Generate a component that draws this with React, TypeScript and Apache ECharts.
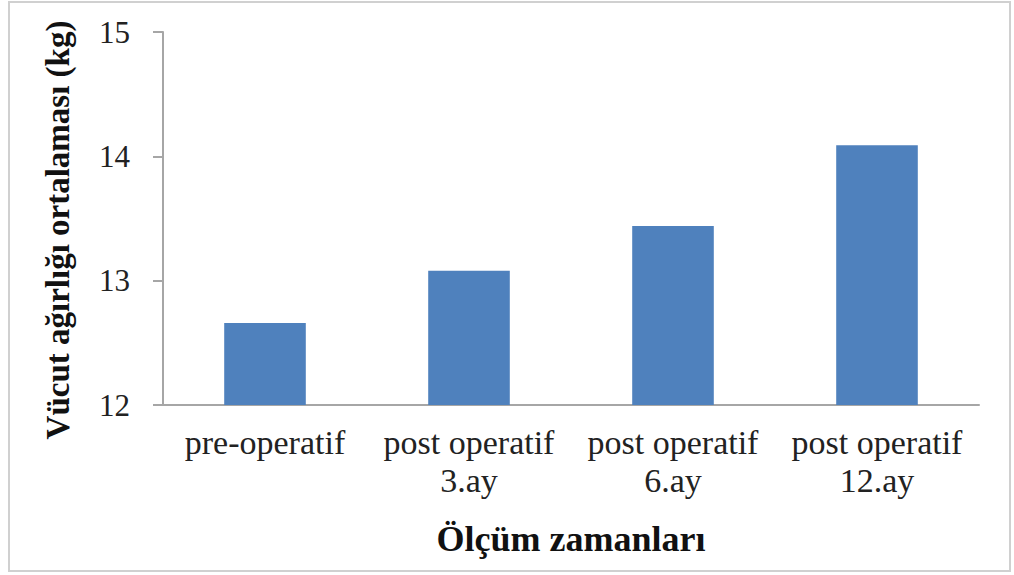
import React, { useEffect, useRef } from "react";
import * as echarts from "echarts";

const categories = ["pre-operatif", "post operatif\n3.ay", "post operatif\n6.ay", "post operatif\n12.ay"];
const values = [12.66, 13.08, 13.44, 14.09];
const yTicks = { min: 12, max: 15, interval: 1 };
const yAxisTitle = "Vücut ağırlığı ortalaması (kg)";
const xAxisTitle = "Ölçüm zamanları";

export default function App() {
  const ref = useRef<HTMLDivElement>(null);
  useEffect(() => {
    document.body.style.margin = "0";
    const chart = echarts.init(ref.current!, undefined, { renderer: "svg" });
    const font = "Liberation Serif";
    chart.setOption({
      animation: false,
      backgroundColor: "#ffffff",
      textStyle: { fontFamily: font },
      grid: { left: 163, right: 35, top: 32, bottom: 170, containLabel: false },
      graphic: [
        {
          type: "rect",
          shape: { x: 9, y: 2, width: 1001, height: 569 },
          style: { fill: "none", stroke: "#d0d0d0", lineWidth: 2 },
          silent: true,
        },
        {
          type: "text",
          x: 74,
          y: 230,
          rotation: Math.PI / 2,
          style: {
            text: yAxisTitle,
            fontFamily: font,
            fontSize: 33,
            fontWeight: "bold",
            fill: "#111",
            align: "center",
            verticalAlign: "bottom",
          },
          silent: true,
        },
      ],
      xAxis: {
        type: "category",
        data: categories,
        name: xAxisTitle,
        nameLocation: "middle",
        nameGap: 116,
        nameTextStyle: { fontFamily: font, fontSize: 36, fontWeight: "bold", color: "#111" },
        axisLine: { lineStyle: { color: "#a6a6a6", width: 2 } },
        axisTick: { show: false },
        axisLabel: { fontFamily: font, fontSize: 34, color: "#222", margin: 18, lineHeight: 38, interval: 0 },
      },
      yAxis: {
        type: "value",
        min: yTicks.min,
        max: yTicks.max,
        interval: yTicks.interval,
        axisLine: { show: true, lineStyle: { color: "#a6a6a6", width: 2 } },
        axisTick: { show: true, length: 10, lineStyle: { color: "#a6a6a6", width: 2 } },
        splitLine: { show: false },
        axisLabel: { fontFamily: font, fontSize: 31, color: "#222", margin: 33 },
      },
      series: [
        {
          type: "bar",
          data: values,
          barWidth: "40%",
          itemStyle: { color: "#4f81bd" },
        },
      ],
    });
    return () => chart.dispose();
  }, []);
  return <div ref={ref} style={{ width: 1014, height: 575 }} />;
}
